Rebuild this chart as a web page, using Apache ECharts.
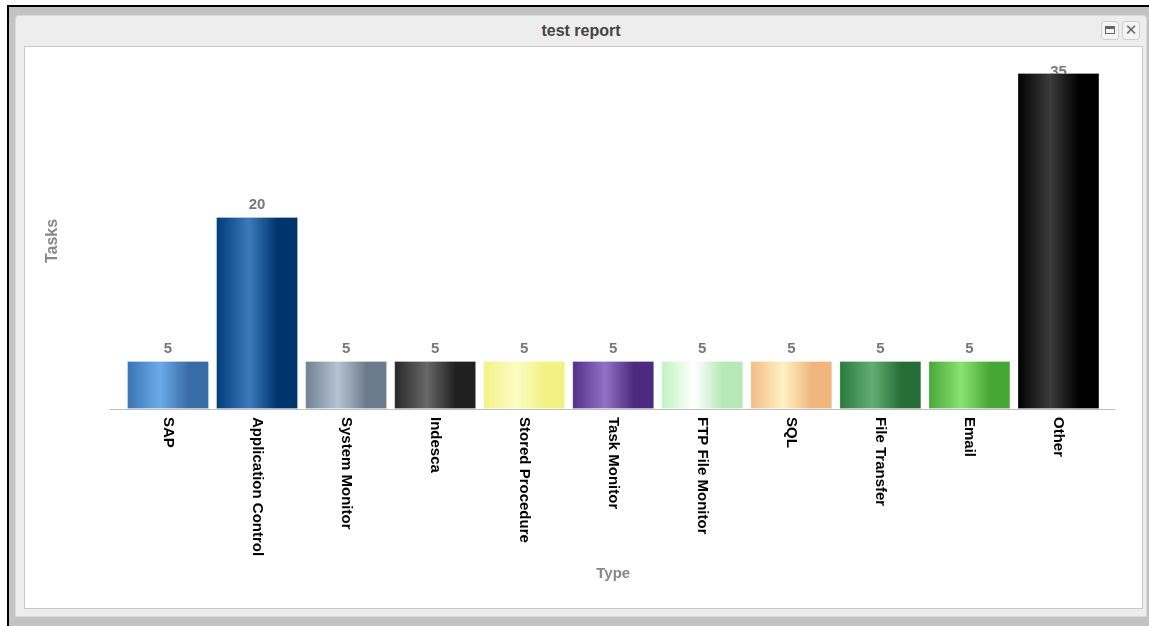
<!DOCTYPE html>
<html>
<head>
<meta charset="utf-8">
<script src="https://cdn.jsdelivr.net/npm/echarts@6/dist/echarts.min.js"></script>
<style>
  html, body { margin: 0; padding: 0; width: 1149px; height: 626px; background: #ffffff; overflow: hidden; font-family: 'Liberation Sans', Arial, sans-serif; }
  #outer { position: absolute; left: 7px; top: 5px; width: 1142px; height: 621px; box-sizing: border-box; border-top: 2px solid #000; border-left: 2px solid #000; background: #c3c3c3; }
  #panel { position: absolute; left: 15px; top: 15px; width: 1132px; height: 602px; box-sizing: border-box; background: #ededed; border: 1px solid #d9d9d9; border-radius: 4px 4px 0 0; }
  #title { position: absolute; left: 15px; top: 16px; width: 1132px; height: 29px; line-height: 29px; text-align: center; font-size: 16px; font-weight: bold; color: #444; }
  #inner { position: absolute; left: 24px; top: 46px; width: 1119px; height: 563px; box-sizing: border-box; background: #fff; border: 1px solid #c9c9c9; }
  .btn { position: absolute; top: 21px; width: 18px; height: 19px; box-sizing: border-box; border: 1px solid #cfcfcf; border-radius: 3px; background: #f4f4f4; }
  #b1 { left: 1101px; }
  #b2 { left: 1122px; }
  #b1 .sq { position: absolute; left: 3px; top: 4px; width: 10px; height: 8px; box-sizing: border-box; border: 1px solid #666; border-top-width: 3px; }
  #b2 .x { position: absolute; left: 0; top: 0; width: 16px; height: 17px; line-height: 17px; text-align: center; font-size: 15px; color: #666; font-family: 'DejaVu Sans', sans-serif; }
  #chart { position: absolute; left: 0; top: 0; width: 1149px; height: 626px; }
</style>
</head>
<body>
<div id="outer"></div>
<div id="panel"></div>
<div id="title">test report</div>
<div class="btn" id="b1"><div class="sq"></div></div>
<div class="btn" id="b2"><div class="x">✕</div></div>
<div id="inner"></div>
<div id="chart"></div>
<script>
const categories = ['SAP', 'Application Control', 'System Monitor', 'Indesca', 'Stored Procedure', 'Task Monitor', 'FTP File Monitor', 'SQL', 'File Transfer', 'Email', 'Other'];
const tasks = [5, 20, 5, 5, 5, 5, 5, 5, 5, 5, 35];
// [edge, highlight, right edge]
const barShades = [
  ['#3a74b2', '#6cabea', '#386ca6'],
  ['#003a7a', '#3b7abb', '#00346c'],
  ['#708090', '#b6c3d3', '#6c7b8b'],
  ['#262626', '#686868', '#202020'],
  ['#f2f282', '#fcfcc4', '#f2f284'],
  ['#522e88', '#9272c6', '#4c2a7e'],
  ['#bff3bf', '#ffffff', '#b6e9b6'],
  ['#f3ba86', '#fff2c4', '#efb67e'],
  ['#28783e', '#62ae72', '#266e36'],
  ['#48a638', '#8ae272', '#46a636'],
  ['#000000', '#3c3c3c', '#000000']
];

const chart = echarts.init(document.getElementById('chart'), null, { renderer: 'canvas' });

const barData = tasks.map((v, i) => ({
  value: v,
  itemStyle: {
    color: new echarts.graphic.LinearGradient(0, 0, 1, 0, [
      { offset: 0, color: barShades[i][0] },
      { offset: 0.4, color: barShades[i][1] },
      { offset: 0.75, color: barShades[i][2] },
      { offset: 1, color: barShades[i][2] }
    ]),
    borderColor: 'rgba(255,255,255,0.25)',
    borderWidth: 1
  }
}));

const labelData = tasks.map((v, i) => (i === tasks.length - 1 ? { value: v, label: { offset: [0, 11] } } : v));

chart.setOption({
  animation: false,
  backgroundColor: 'transparent',
  textStyle: { fontFamily: "'Liberation Sans', Arial, sans-serif" },
  grid: [
    { left: 123.5, width: 979.5, top: 73, height: 336, containLabel: false },
    { left: 110, width: 1005, top: 73, height: 336, containLabel: false }
  ],
  xAxis: [
    {
      type: 'category', gridIndex: 0, data: categories,
      axisLine: { show: false }, axisTick: { show: false },
      axisLabel: { rotate: -90, margin: 8, interval: 0, color: '#000', fontWeight: 'bold', fontSize: 15 },
      name: 'Type', nameLocation: 'middle', nameGap: 157,
      nameTextStyle: { color: '#888', fontWeight: 'bold', fontSize: 15 }
    },
    {
      type: 'value', gridIndex: 1, min: 0, max: 1,
      axisLine: { show: true, lineStyle: { color: '#c0c0c0', width: 1 } },
      axisTick: { show: false }, axisLabel: { show: false }, splitLine: { show: false }
    }
  ],
  yAxis: [
    {
      type: 'value', gridIndex: 0, min: 0, max: 35,
      axisLine: { show: false }, axisTick: { show: false }, axisLabel: { show: false }, splitLine: { show: false },
      name: 'Tasks', nameLocation: 'middle', nameGap: 63,
      nameTextStyle: { color: '#888', fontWeight: 'bold', fontSize: 16 }
    },
    { type: 'value', gridIndex: 1, show: false, min: 0, max: 1 }
  ],
  series: [
    {
      type: 'scatter', xAxisIndex: 0, yAxisIndex: 0, z: 1,
      symbolSize: 0, itemStyle: { color: 'transparent' },
      data: labelData,
      label: { show: true, position: 'top', distance: 5, color: '#555', fontWeight: 'bold', fontSize: 15 },
      silent: true
    },
    {
      type: 'bar', xAxisIndex: 0, yAxisIndex: 0, z: 3,
      barCategoryGap: '8%',
      data: barData
    }
  ]
});
</script>
</body>
</html>
